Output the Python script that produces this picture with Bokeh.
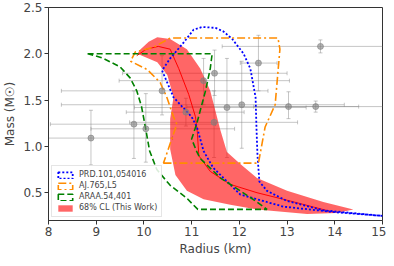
from bokeh.plotting import figure
from bokeh.models import (ColumnDataSource, Whisker, TeeHead, Legend, LegendItem,
                          Range1d, CustomJSTickFormatter)
from bokeh.embed import file_html
from bokeh.resources import INLINE

# ---- data ----
# PRD.101,054016 contour (blue dotted)
prd_r = [14.00, 12.92, 12.02, 11.45, 11.25, 11.11, 11.00, 10.62, 10.38, 10.55, 10.83,
         11.04, 11.22, 11.50, 11.67, 11.85, 12.09, 12.23, 12.34, 12.36, 12.38, 12.42,
         12.58, 13.00, 13.76, 15.00]
prd_m = [0.29, 0.35, 0.48, 0.77, 0.95, 1.21, 1.32, 1.53, 1.82, 1.95, 2.12,
         2.26, 2.29, 2.28, 2.24, 2.16, 2.00, 1.84, 1.53, 1.18, 0.90, 0.62,
         0.52, 0.41, 0.31, 0.25]
# AJ.765,L5 region (orange dash-dot)
aj_r = [10.41, 12.40, 12.54, 12.75, 12.85, 12.81, 10.55, 10.20, 9.82, 9.72,
        10.07, 10.34, 10.48, 10.62, 10.69, 10.41]
aj_m = [0.82, 0.82, 1.21, 1.45, 2.05, 2.17, 2.17, 2.07, 2.02, 1.92,
        1.83, 1.69, 1.53, 1.32, 1.24, 0.82]
# ARAA.54,401 region (green dashed)
araa_r = [8.82, 11.43, 11.39, 11.29, 11.11, 11.00, 11.11, 11.18, 11.60, 12.02, 12.37, 12.58,
          11.13, 10.90, 10.55, 10.27, 10.12, 10.04, 9.95, 9.85, 9.71, 9.50, 9.15, 8.98, 8.82]
araa_m = [2.00, 2.00, 1.84, 1.60, 1.25, 1.08, 0.94, 0.87, 0.66, 0.52, 0.40, 0.32,
          0.32, 0.44, 0.58, 0.75, 0.95, 1.18, 1.43, 1.60, 1.74, 1.86, 1.95, 1.98, 2.00]
# 68% CL band (this work)
band_r = [9.86, 9.93, 10.10, 10.28, 10.55, 10.90, 11.18, 11.39, 11.53, 11.60, 11.74, 12.02,
          12.37, 13.00, 13.76, 14.39, 14.04, 13.42, 12.37, 11.81, 11.25, 10.90, 10.66, 10.55,
          10.55, 10.62, 10.49, 10.28, 9.86]
band_m = [2.00, 2.05, 2.13, 2.18, 2.16, 2.05, 1.84, 1.60, 1.32, 1.18, 0.94, 0.81,
          0.66, 0.52, 0.40, 0.32, 0.28, 0.27, 0.32, 0.37, 0.43, 0.52, 0.69, 0.97,
          1.30, 1.53, 1.77, 1.91, 2.00]
# central curve (red)
mid_r = [9.85, 10.05, 10.30, 10.55, 10.73, 10.94, 11.08, 11.12, 11.15, 11.39, 11.81,
         12.37, 13.07, 13.97]
mid_m = [1.98, 2.05, 2.08, 2.05, 1.84, 1.56, 1.32, 1.15, 0.90, 0.73, 0.59,
         0.50, 0.41, 0.29]
# measurements with error bars (gray)
obs_r = [13.70, 12.40, 11.48, 11.25, 10.38, 10.88, 11.74, 12.05, 13.03, 13.60, 11.47, 9.79, 10.04, 8.89]
obs_m = [2.08, 1.90, 1.79, 1.71, 1.60, 1.37, 1.42, 1.45, 1.43, 1.43, 1.26, 1.24, 1.19, 1.09]
obs_rlo = [11.64, 12.02, 9.55, 9.48, 8.27, 9.63, 9.80, 8.27, 10.90, 12.30, 9.70, 8.04, 8.89, 7.90]
obs_rhi = [15.50, 12.79, 13.00, 13.05, 12.60, 12.10, 13.40, 14.20, 15.50, 14.50, 13.22, 11.50, 11.90, 10.60]
obs_mlo = [2.01, 1.60, 1.55, 1.45, 1.34, 1.22, 0.88, 0.98, 1.30, 1.37, 0.88, 0.87, 0.83, 0.80]
obs_mhi = [2.15, 2.20, 2.04, 1.95, 1.98, 1.52, 1.95, 1.92, 1.59, 1.49, 1.60, 1.60, 1.57, 1.39]

FONT = "DejaVu Sans"

p = figure(width=386, height=258, x_range=Range1d(8, 15), y_range=Range1d(0.2, 2.5),
           output_backend="svg", toolbar_location=None,
           min_border_left=0, min_border_right=4, min_border_top=7, min_border_bottom=0)

p.xgrid.visible = False
p.ygrid.visible = False
p.outline_line_color = "#333333"
p.outline_line_width = 1

band = p.patch(band_r, band_m, fill_color="red", fill_alpha=0.6, line_color=None)
p.line(mid_r, mid_m, line_color="red", line_width=1)

prd = p.patch(prd_r, prd_m, fill_alpha=0, line_color="blue", line_width=1.8, line_dash="2 2")
aj = p.patch(aj_r, aj_m, fill_alpha=0, line_color="darkorange", line_width=1.6, line_dash="8 3 2 3")
araa = p.patch(araa_r, araa_m, fill_alpha=0, line_color="green", line_width=1.6, line_dash="6 3")

src = ColumnDataSource(dict(r=obs_r, m=obs_m, rlo=obs_rlo, rhi=obs_rhi, mlo=obs_mlo, mhi=obs_mhi))
wcol = "gray"
p.add_layout(Whisker(source=src, base="m", lower="rlo", upper="rhi", dimension="width",
                     line_color=wcol, line_alpha=0.45, line_width=1,
                     lower_head=TeeHead(size=4, line_color=wcol, line_alpha=0.45),
                     upper_head=TeeHead(size=4, line_color=wcol, line_alpha=0.45)))
p.add_layout(Whisker(source=src, base="r", lower="mlo", upper="mhi", dimension="height",
                     line_color=wcol, line_alpha=0.45, line_width=1,
                     lower_head=TeeHead(size=4, line_color=wcol, line_alpha=0.45),
                     upper_head=TeeHead(size=4, line_color=wcol, line_alpha=0.45)))
p.scatter("r", "m", source=src, size=6, color="gray", alpha=0.6)

legend = Legend(items=[LegendItem(label="PRD.101,054016", renderers=[prd]),
                       LegendItem(label="AJ.765,L5", renderers=[aj]),
                       LegendItem(label="ARAA.54,401", renderers=[araa]),
                       LegendItem(label="68% CL (This Work)", renderers=[band])],
                location="bottom_left")
legend.label_text_font = FONT
legend.label_text_font_size = "8px"
legend.glyph_width = 18
legend.glyph_height = 8
legend.label_height = 9
legend.spacing = 2
legend.padding = 4
legend.margin = 3
legend.label_standoff = 5
legend.border_line_color = "#cccccc"
legend.background_fill_alpha = 0.85
p.add_layout(legend)

p.xaxis.ticker = list(range(8, 16))
p.yaxis.ticker = [0.5, 1.0, 1.5, 2.0, 2.5]
p.yaxis.formatter = CustomJSTickFormatter(code="return tick.toFixed(1);")
p.xaxis.axis_label = "Radius (km)"
p.yaxis.axis_label = "Mass (M☉)"
for ax in (p.xaxis, p.yaxis):
    ax.axis_label_text_font = FONT
    ax.axis_label_text_font_size = "12px"
    ax.axis_label_text_font_style = "normal"
    ax.major_label_text_font = FONT
    ax.major_label_text_font_size = "12px"
    ax.major_tick_out = 4
    ax.major_tick_in = 0
    ax.minor_tick_line_color = None
    ax.axis_line_color = "#333333"
    ax.major_tick_line_color = "#333333"
    ax.major_label_standoff = 2
    ax.axis_label_standoff = 3

open("out.html", "w").write(file_html(p, INLINE))
